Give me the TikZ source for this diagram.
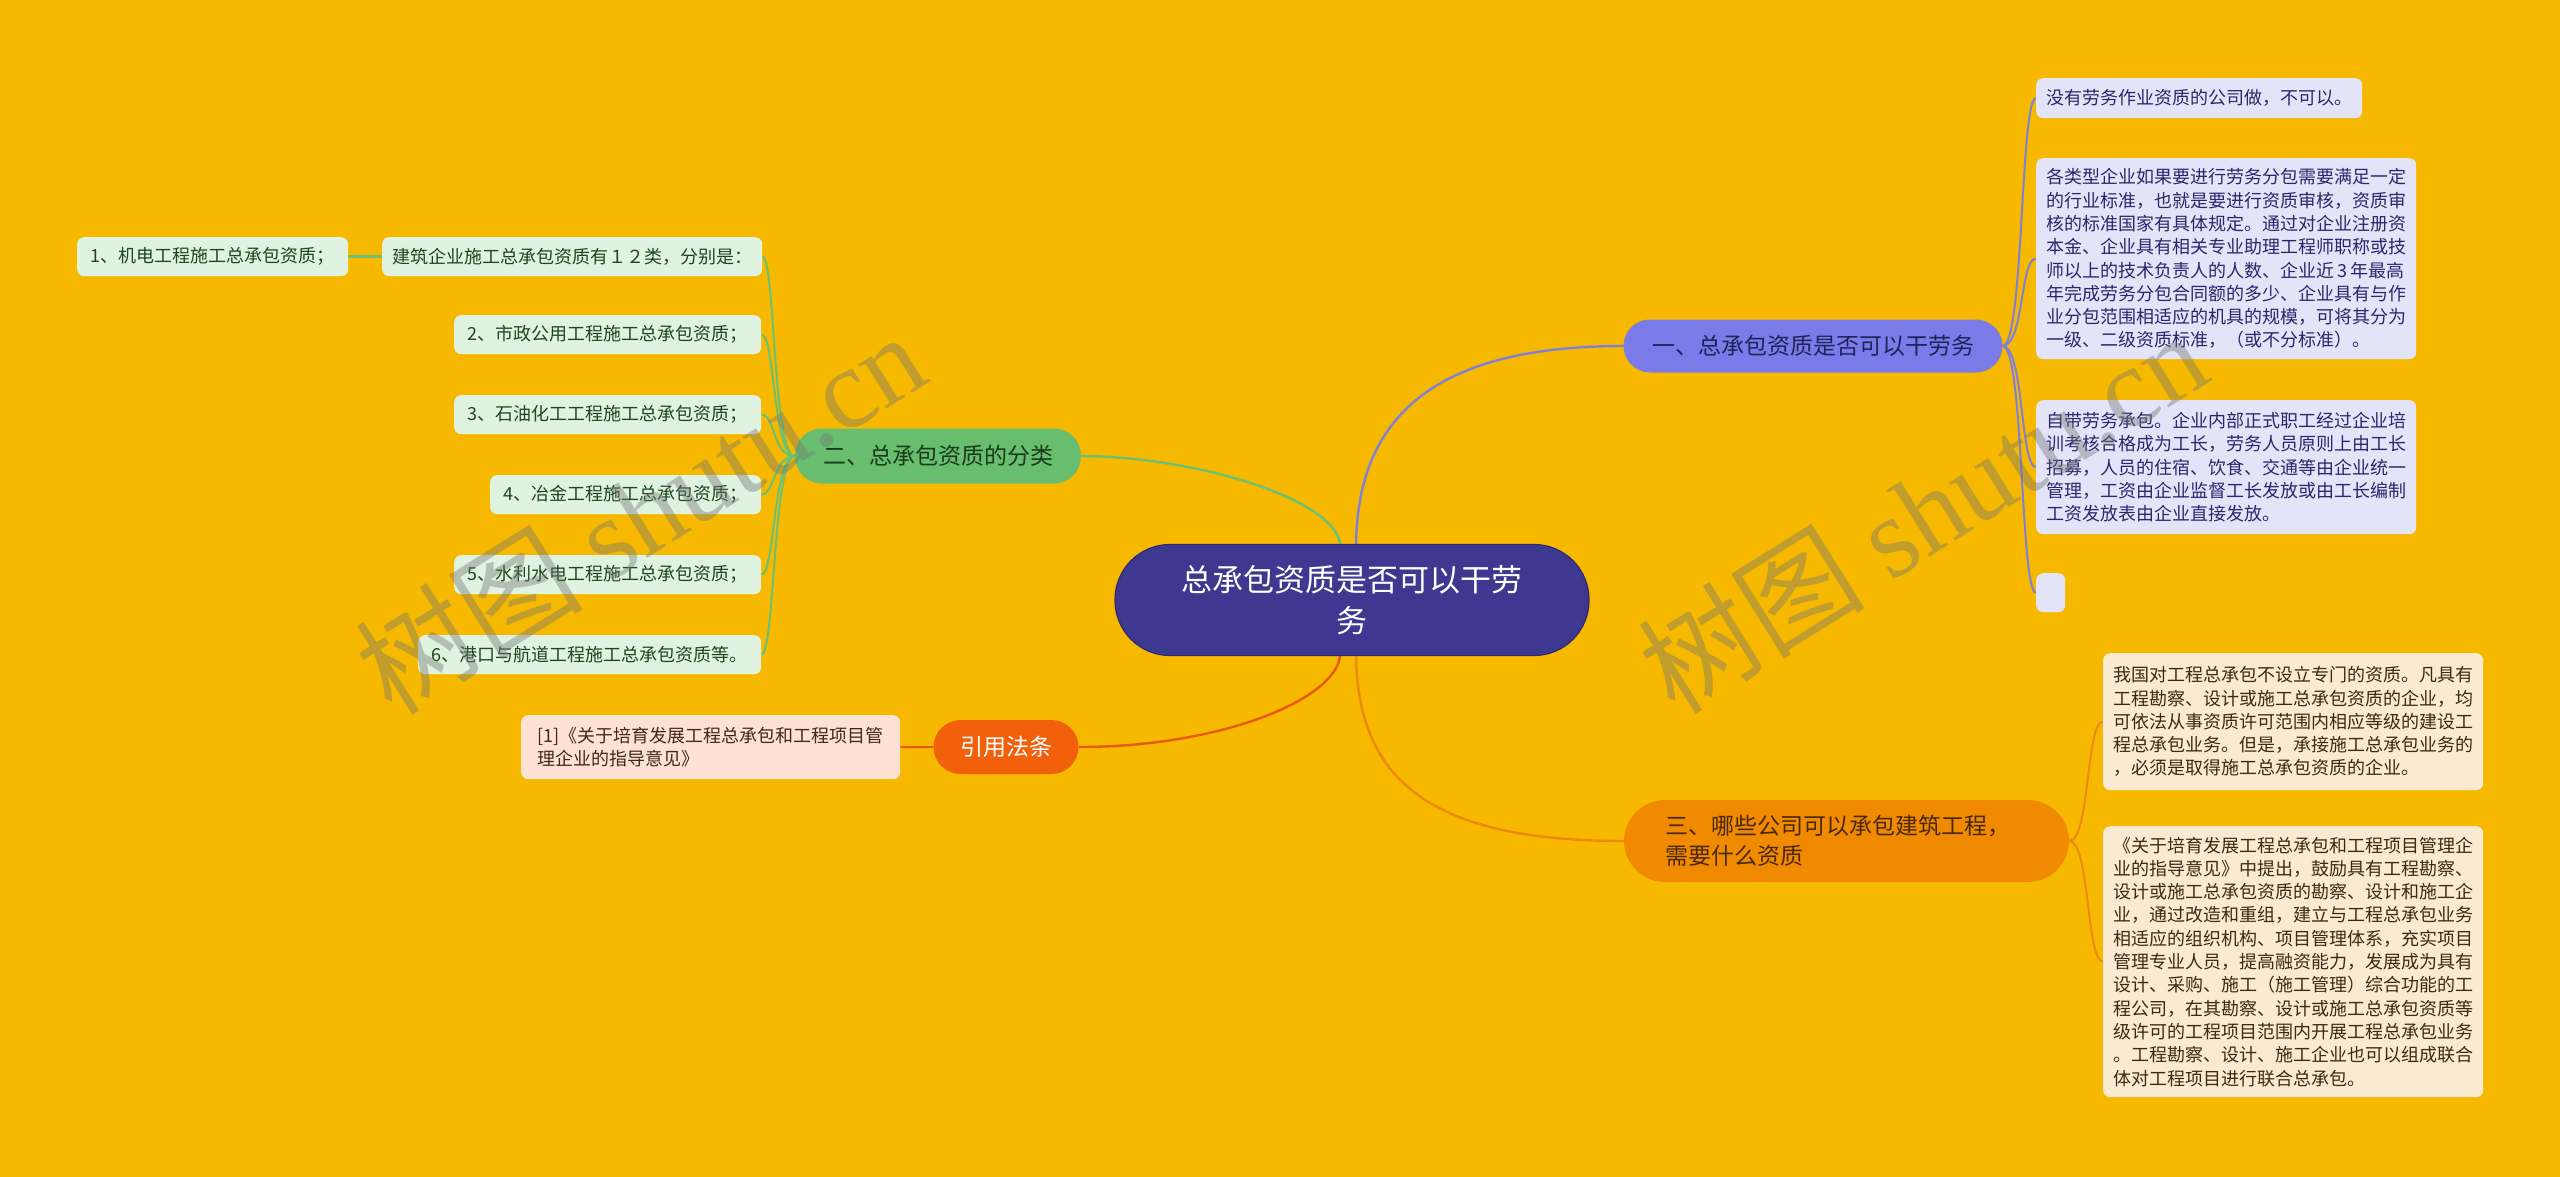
\documentclass[tikz,border=0pt]{standalone}
\usepackage{fontspec}
\setmainfont{Noto Sans CJK SC}
\newfontfamily\wmserif{Liberation Serif}
\definecolor{bgc}{RGB}{246,185,0}
\definecolor{ctrfill}{RGB}{63,56,144}
\definecolor{ctrdraw}{RGB}{45,40,110}
\definecolor{bAfill}{RGB}{122,122,232}
\definecolor{bAline}{RGB}{128,128,214}
\definecolor{bAtext}{RGB}{34,34,90}
\definecolor{lAfill}{RGB}{228,228,248}
\definecolor{lAtext}{RGB}{40,40,110}
\definecolor{bBfill}{RGB}{104,190,110}
\definecolor{bBline}{RGB}{108,192,112}
\definecolor{bBtext}{RGB}{26,58,26}
\definecolor{lBfill}{RGB}{224,242,224}
\definecolor{lBtext}{RGB}{30,70,32}
\definecolor{bCfill}{RGB}{240,138,0}
\definecolor{bCline}{RGB}{236,138,16}
\definecolor{bCtext}{RGB}{74,40,0}
\definecolor{lCfill}{RGB}{252,233,210}
\definecolor{lCtext}{RGB}{60,42,20}
\definecolor{bDfill}{RGB}{242,96,12}
\definecolor{bDline}{RGB}{232,90,16}
\definecolor{lDfill}{RGB}{253,225,211}
\definecolor{lDtext}{RGB}{60,42,26}
\pgfdeclarelayer{bglayer}
\pgfdeclarelayer{linelayer}
\pgfsetlayers{bglayer,linelayer,main}
\begin{document}
\begin{tikzpicture}[x=1pt,y=-1pt,
  leaffont/.style={font=\fontsize{18}{23.3}\selectfont},
  leafbox/.style={leaffont, rounded corners=7pt, inner xsep=10pt, inner ysep=0pt, anchor=north west, align=left},
  leafA/.style={leafbox, fill=lAfill, text=lAtext},
  leafB/.style={leafbox, fill=lBfill, text=lBtext},
  leafC/.style={leafbox, fill=lCfill, text=lCtext},
  leafD/.style={leafbox, fill=lDfill, text=lDtext},
  branchbox/.style={font=\fontsize{23}{30}\selectfont, inner sep=0pt, align=center},
  conn/.style={line width=2.4pt},
  subconn/.style={line width=2pt},
  wmark/.style={rotate=32, text=black!55, opacity=0.4, font=\fontsize{114}{114}\selectfont, inner sep=0pt}
]
\begin{pgfonlayer}{bglayer}
\useasboundingbox (0,0) rectangle (2560,1177);
\fill[bgc] (0,0) rectangle (2560,1177);
\end{pgfonlayer}

% central
\node[fill=ctrfill, draw=ctrdraw, line width=1.2pt, rounded corners=55pt, minimum width=474pt, minimum height=111pt, inner sep=0pt, text=white, align=center, font=\fontsize{31}{41}\selectfont] (ctr) at (1352,600) {总承包资质是否可以干劳\\务};

% branch 1
\node[branchbox, fill=bAfill, draw=bAline, line width=1pt, rounded corners=26pt, minimum width=378pt, minimum height=52pt, text=bAtext] (b1) at (1813,346) {一、总承包资质是否可以干劳务};
\node[leafA, minimum width=325pt, minimum height=40pt] (l1a) at (2036,78) {没有劳务作业资质的公司做，不可以。};
\node[leafA, minimum width=379pt, minimum height=201pt] (l1b) at (2036,158) {各类型企业如果要进行劳务分包需要满足一定\\的行业标准，也就是要进行资质审核，资质审\\核的标准国家有具体规定。通过对企业注册资\\本金、企业具有相关专业助理工程师职称或技\\师以上的技术负责人的人数、企业近\,3\,年最高\\年完成劳务分包合同额的多少、企业具有与作\\业分包范围相适应的机具的规模，可将其分为\\一级、二级资质标准，（或不分标准）。};
\node[leafA, minimum width=379pt, minimum height=134pt] (l1c) at (2036,400) {自带劳务承包。企业内部正式职工经过企业培\\训考核合格成为工长，劳务人员原则上由工长\\招募，人员的住宿、饮食、交通等由企业统一\\管理，工资由企业监督工长发放或由工长编制\\工资发放表由企业直接发放。};
\node[leafA, minimum width=29pt, minimum height=39pt, inner xsep=0pt] (l1d) at (2036,573) {};

% branch 3
\node[branchbox, fill=bCfill, rounded corners=41pt, minimum width=445pt, minimum height=82pt, text=bCtext, align=left, text width=363pt] (b3) at (1846.5,841) {三、哪些公司可以承包建筑工程，\\需要什么资质};
\node[leafC, minimum width=379pt, minimum height=137pt] (l3a) at (2103,653) {我国对工程总承包不设立专门的资质。凡具有\\工程勘察、设计或施工总承包资质的企业，均\\可依法从事资质许可范围内相应等级的建设工\\程总承包业务。但是，承接施工总承包业务的\\，必须是取得施工总承包资质的企业。};
\node[leafC, minimum width=379pt, minimum height=271pt] (l3b) at (2103,826) {《关于培育发展工程总承包和工程项目管理企\\业的指导意见》中提出，鼓励具有工程勘察、\\设计或施工总承包资质的勘察、设计和施工企\\业，通过改造和重组，建立与工程总承包业务\\相适应的组织机构、项目管理体系，充实项目\\管理专业人员，提高融资能力，发展成为具有\\设计、采购、施工（施工管理）综合功能的工\\程公司，在其勘察、设计或施工总承包资质等\\级许可的工程项目范围内开展工程总承包业务\\。工程勘察、设计、施工企业也可以组成联合\\体对工程项目进行联合总承包。};

% branch 2
\node[branchbox, fill=bBfill, rounded corners=27pt, minimum width=286pt, minimum height=55pt, text=bBtext] (b2) at (938,456) {二、总承包资质的分类};
\node[leafB, minimum width=379pt, minimum height=39pt] (c0) at (382,237) {建筑企业施工总承包资质有１２类，分别是：};
\node[leafB, minimum width=271pt, minimum height=39pt] (c1) at (77,237) {1、机电工程施工总承包资质；};
\node[leafB, minimum width=307pt, minimum height=39pt] (c2) at (454,315) {2、市政公用工程施工总承包资质；};
\node[leafB, minimum width=307pt, minimum height=39pt] (c3) at (454,395) {3、石油化工工程施工总承包资质；};
\node[leafB, minimum width=271pt, minimum height=39pt] (c4) at (490,475) {4、冶金工程施工总承包资质；};
\node[leafB, minimum width=307pt, minimum height=39pt] (c5) at (454,555) {5、水利水电工程施工总承包资质；};
\node[leafB, minimum width=343pt, minimum height=39pt] (c6) at (418,635) {6、港口与航道工程施工总承包资质等。};

% reference branch
\node[branchbox, fill=bDfill, rounded corners=27pt, minimum width=145pt, minimum height=54pt, text=white] (rf) at (1006,747) {引用法条};
\node[leafD, minimum width=379pt, minimum height=64pt] (rl) at (521,715) {[1]《关于培育发展工程总承包和工程项目管\\理企业的指导意见》};

\begin{pgfonlayer}{linelayer}
\draw[conn, bAline] ([xshift=4pt]ctr.north) .. controls (1358,420) and (1430,346) .. (b1.west);
\draw[conn, bBline] ([xshift=-12pt]ctr.north) .. controls (1335,500) and (1200,457) .. (b2.east);
\draw[conn, bDline] ([xshift=-12pt]ctr.south) .. controls (1335,700) and (1220,747) .. (rf.east);
\draw[conn, bCline] ([xshift=4pt]ctr.south) .. controls (1358,780) and (1430,841) .. (b3.west);
\foreach \n/\y in {l1a/98, l1b/258, l1c/467, l1d/592}
  \draw[subconn, bAline] (b1.east) .. controls (2024,346) and (2020,\y) .. (\n.west);
\foreach \n/\y in {l3a/721, l3b/961}
  \draw[subconn, bCline] (b3.east) .. controls (2090,841) and (2086,\y) .. (\n.west);
\foreach \n/\y in {c0/256, c2/334, c3/414, c4/494, c5/574, c6/654}
  \draw[subconn, bBline] (b2.west) .. controls (773,457) and (775,\y) .. (\n.east);
\draw[line width=3.5pt, bBline] (c0.west) -- (c1.east);
\draw[subconn, bDline] (rf.west) -- (rl.east);
\end{pgfonlayer}

% watermarks
\node[wmark] (wm1) at (640,512) {树图 {\wmserif shutu.cn}};
\node[wmark] (wm2) at (1922,511) {树图 {\wmserif shutu.cn}};
\end{tikzpicture}
\end{document}
